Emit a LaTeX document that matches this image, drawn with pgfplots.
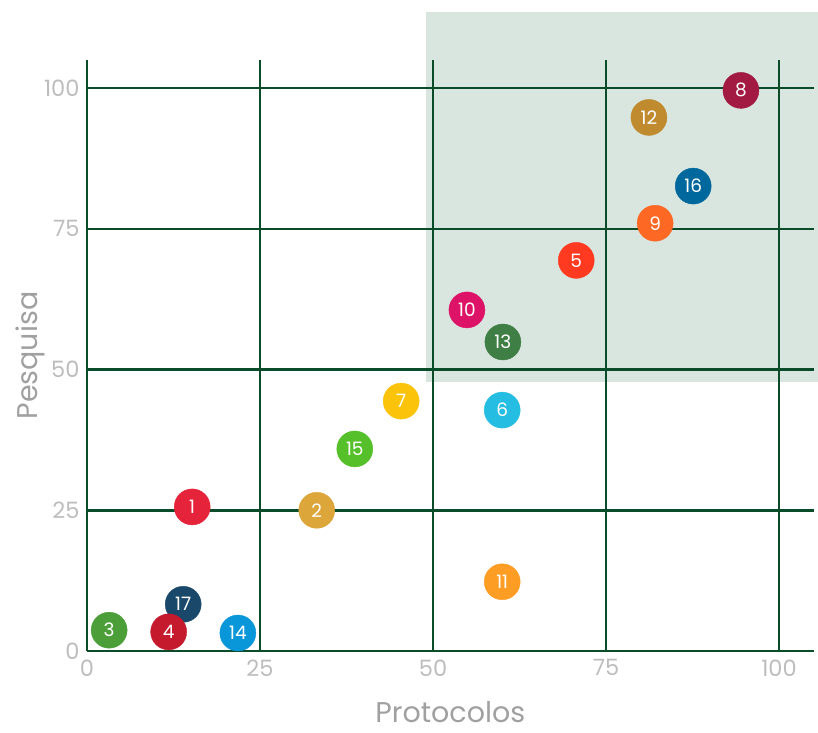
\documentclass[border=0pt]{standalone}
\usepackage{pgfplots}
\pgfplotsset{compat=1.18}
\usepackage{fontspec}
\setmainfont{Poppins}
\definecolor{gridg}{HTML}{0A4B2A}
\definecolor{shadecol}{HTML}{D9E6DF}
\definecolor{tickc}{HTML}{BDBDBD}
\definecolor{labc}{HTML}{A0A0A0}
\definecolor{s1}{HTML}{E5243B}
\definecolor{s2}{HTML}{DDA63A}
\definecolor{s3}{HTML}{4C9F38}
\definecolor{s4}{HTML}{C5192D}
\definecolor{s5}{HTML}{FF3A21}
\definecolor{s6}{HTML}{26BDE2}
\definecolor{s7}{HTML}{FCC30B}
\definecolor{s8}{HTML}{A21942}
\definecolor{s9}{HTML}{FD6925}
\definecolor{s10}{HTML}{DD1367}
\definecolor{s11}{HTML}{FD9D24}
\definecolor{s12}{HTML}{BF8B2E}
\definecolor{s13}{HTML}{3F7E44}
\definecolor{s14}{HTML}{0A97D9}
\definecolor{s15}{HTML}{56C02B}
\definecolor{s16}{HTML}{00689D}
\definecolor{s17}{HTML}{19486A}
\pgfplotsset{pt/.style={only marks, mark=*, color=#1, mark size=18pt,
  nodes near coords, point meta=explicit symbolic,
  every node near coord/.style={anchor=center, text=white, font=\fontsize{18.5}{18.5}\selectfont}}}
\begin{document}
\begin{tikzpicture}
\begin{axis}[set layers, clip=false,
  scale only axis, width=726.6pt, height=591pt,
  xmin=0, xmax=105, ymin=0, ymax=105,
  axis x line=bottom, axis y line=left,
  axis line style={gridg, line width=2.6pt, -},
  xtick={0,25,50,75,100}, ytick={0,25,50,75,100},
  major tick length=0pt,
  grid=major, major grid style={gridg, line width=2.6pt},
  /pgf/number format/assume math mode=true,
  tick label style={tickc, font=\fontsize{22.5}{22.5}\selectfont},
  xticklabel style={yshift=-5pt},
  yticklabel style={xshift=-4pt},
  xlabel={Protocolos}, ylabel={Pesquisa},
  label style={labc, font=\fontsize{28.5}{28.5}\selectfont, inner sep=0pt},
  xlabel style={at={(rel axis cs:0.5,0)}, anchor=center, yshift=-61pt},
  ylabel style={at={(rel axis cs:0,0.5)}, anchor=center, yshift=57pt},
]
\coordinate (o) at (axis cs:0,0);
\begin{pgfonlayer}{axis background}
\fill[shadecol] (axis cs:49,47.8) rectangle (axis cs:105.6,113.5);
\end{pgfonlayer}
\addplot[pt=s1] coordinates {(15.2,25.6) [1]};
\addplot[pt=s2] coordinates {(33.2,25.0) [2]};
\addplot[pt=s3] coordinates {(3.2,3.7) [3]};
\addplot[pt=s17] coordinates {(13.9,8.3) [17]};
\addplot[pt=s4] coordinates {(11.8,3.4) [4]};
\addplot[pt=s5] coordinates {(70.7,69.4) [5]};
\addplot[pt=s6] coordinates {(60.0,42.8) [6]};
\addplot[pt=s7] coordinates {(45.4,44.4) [7]};
\addplot[pt=s8] coordinates {(94.5,99.6) [8]};
\addplot[pt=s9] coordinates {(82.1,76.0) [9]};
\addplot[pt=s10] coordinates {(54.9,60.6) [10]};
\addplot[pt=s11] coordinates {(60.0,12.3) [11]};
\addplot[pt=s12] coordinates {(81.2,94.8) [12]};
\addplot[pt=s13] coordinates {(60.1,54.9) [13]};
\addplot[pt=s14] coordinates {(21.8,3.2) [14]};
\addplot[pt=s15] coordinates {(38.7,35.9) [15]};
\addplot[pt=s16] coordinates {(87.6,82.6) [16]};
\end{axis}
\pgfresetboundingbox
\path[use as bounding box] (o) ++(-87pt,-81pt) rectangle ++(818pt,732pt);
\end{tikzpicture}
\end{document}
